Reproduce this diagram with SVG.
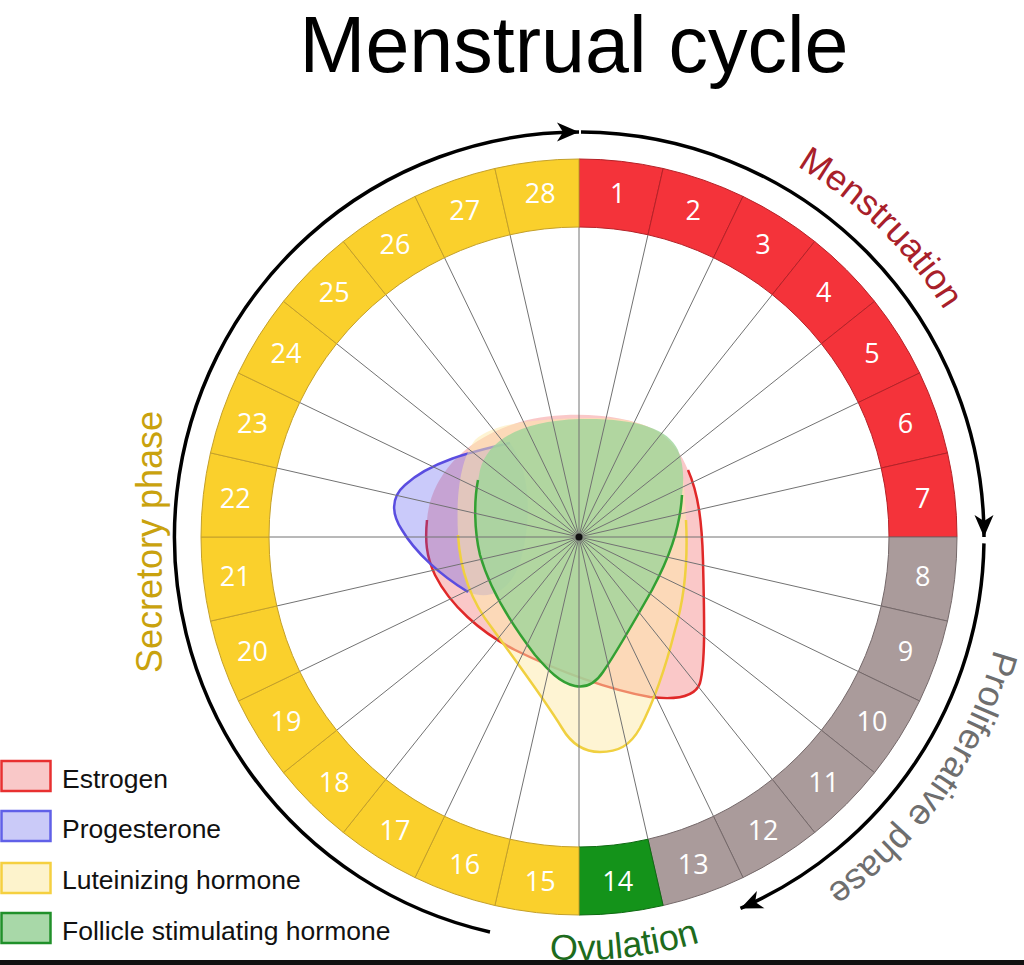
<svg xmlns="http://www.w3.org/2000/svg" width="1024" height="965" viewBox="0 0 1024 965">
<style>
.seg{stroke-width:1}
.red{fill:#F4333A;stroke:#B52228}
.gray{fill:#AA9B9B;stroke:#75696A}
.grn{fill:#14931A;stroke:#0E6A12}
.yel{fill:#FAD02C;stroke:#C4A02A}
.num{font-family:"Open Sans","Liberation Sans",sans-serif;font-size:27px;fill:#fff;text-anchor:middle}
.spk{stroke:#727272;stroke-width:1}
.arc{fill:none;stroke:#000;stroke-width:3.5;marker-end:url(#ah)}
.lbl{font-family:"Liberation Sans",Arial,sans-serif;font-size:36px}
.leg{font-family:"Liberation Sans",Arial,sans-serif;font-size:26.5px;fill:#111}
.box{stroke-width:2.5}
</style>
<defs>
<marker id="ah" markerUnits="userSpaceOnUse" markerWidth="26" markerHeight="24" viewBox="-24 -12 26 24" refX="0" refY="0" orient="auto">
<path d="M0,0 L-22,-9.5 L-16,0 L-22,9.5 Z" fill="#000"/>
</marker>
<path id="cw" d="M579,107 A430,430 0 1 1 579,967 A430,430 0 1 1 579,107"/>
<path id="ccw" d="M336.4,883.5 A423,423 0 0 0 878.1,836.1"/>
</defs>
<rect width="1024" height="965" fill="#fff"/>
<g id="title"><text x="574" y="72" font-family="Liberation Sans,Arial,sans-serif" font-size="79" text-anchor="middle" fill="#000">Menstrual cycle</text></g>

<g id="hormones">
<g id="estrogen-curve">
<path d="M688,470 C699,495 702,525 703,560 C704,610 706,660 700,683 C695,698 675,700 650,697 C610,690 560,672 515,650 C480,632 450,605 435,575 C426,556 425,540 427,520 C430,480 460,440 520,422 C560,411 620,412 655,430 C672,440 682,455 688,470 Z" fill="#F04848" fill-opacity="0.3"/>
<path d="M688,470 C699,495 702,525 703,560 C704,610 706,660 700,683 C695,698 675,700 650,697 C610,690 560,672 515,650 C480,632 450,605 435,575 C426,556 425,540 427,520" fill="none" stroke="#E02828" stroke-width="2.5"/>
</g>
<g id="progesterone-curve">
<path d="M510,443 C470,452 430,462 405,485 C390,498 392,515 402,530 C415,552 440,575 468,592 C495,603 515,585 522,555 C532,515 530,470 510,443 Z" fill="#5050F0" fill-opacity="0.3"/>
<path d="M510,443 C470,452 430,462 405,485 C390,498 392,515 402,530 C415,552 440,575 468,592" fill="none" stroke="#5A4DE0" stroke-width="2.5"/>
</g>
<g id="lh-curve">
<path d="M686,520 C688,560 684,600 675,630 C665,670 652,705 640,728 C630,746 618,752 600,752 C585,752 572,745 562,728 C545,700 515,660 492,628 C470,600 460,570 458,535 C456,495 460,460 475,440 C495,422 540,418 600,418 C640,418 668,432 678,455 C684,472 685,495 686,520 Z" fill="#FDE9A8" fill-opacity="0.5"/>
<path d="M686,520 C688,560 684,600 675,630 C665,670 652,705 640,728 C630,746 618,752 600,752 C585,752 572,745 562,728 C545,700 515,660 492,628 C470,600 460,570 458,535" fill="none" stroke="#F0D040" stroke-width="2.5"/>
</g>
<g id="fsh-curve">
<path d="M682,495 C680,530 668,560 652,590 C635,620 618,650 603,672 C595,684 585,688 575,686 C560,683 548,670 535,655 C512,625 490,590 480,555 C474,530 474,500 480,470 C488,440 520,421 580,419 C635,418 668,428 678,450 C684,465 684,480 682,495 Z" fill="#A0D69B" fill-opacity="0.82"/>
<path d="M682,495 C680,530 668,560 652,590 C635,620 618,650 603,672 C595,684 585,688 575,686 C560,683 548,670 535,655 C512,625 490,590 480,555 C474,530 474,500 478,480" fill="none" stroke="#33A033" stroke-width="2.5"/>
</g>
</g>

<g id="spokes">
<line class="spk" x1="579" y1="227" x2="579" y2="847"/>
<line class="spk" x1="647.98" y1="234.77" x2="510.02" y2="839.23"/>
<line class="spk" x1="713.50" y1="257.70" x2="444.50" y2="816.30"/>
<line class="spk" x1="772.28" y1="294.63" x2="385.72" y2="779.37"/>
<line class="spk" x1="821.37" y1="343.72" x2="336.63" y2="730.28"/>
<line class="spk" x1="858.30" y1="402.50" x2="299.70" y2="671.50"/>
<line class="spk" x1="881.23" y1="468.02" x2="276.77" y2="605.98"/>
<line class="spk" x1="889" y1="537" x2="269" y2="537"/>
<line class="spk" x1="881.23" y1="605.98" x2="276.77" y2="468.02"/>
<line class="spk" x1="858.30" y1="671.50" x2="299.70" y2="402.50"/>
<line class="spk" x1="821.37" y1="730.28" x2="336.63" y2="343.72"/>
<line class="spk" x1="772.28" y1="779.37" x2="385.72" y2="294.63"/>
<line class="spk" x1="713.50" y1="816.30" x2="444.50" y2="257.70"/>
<line class="spk" x1="647.98" y1="839.23" x2="510.02" y2="234.77"/>
<circle cx="579" cy="537" r="3.5" fill="#111"/>
</g>

<g id="ring">
<g id="day1"><path class="seg red" d="M579,159 A378,378 0 0 1 663.11,168.48 L647.98,234.77 A310,310 0 0 0 579,227 Z"/><text class="num" x="617.7" y="203.2">1</text></g>
<g id="day2"><path class="seg red" d="M663.11,168.48 A378,378 0 0 1 743.01,196.43 L713.50,257.70 A310,310 0 0 0 647.98,234.77 Z"/><text class="num" x="693.3" y="220.4">2</text></g>
<g id="day3"><path class="seg red" d="M743.01,196.43 A378,378 0 0 1 814.68,241.47 L772.28,294.63 A310,310 0 0 0 713.50,257.70 Z"/><text class="num" x="763.1" y="254">3</text></g>
<g id="day4"><path class="seg red" d="M814.68,241.47 A378,378 0 0 1 874.53,301.32 L821.37,343.72 A310,310 0 0 0 772.28,294.63 Z"/><text class="num" x="823.7" y="302.3">4</text></g>
<g id="day5"><path class="seg red" d="M874.53,301.32 A378,378 0 0 1 919.57,372.99 L858.30,402.50 A310,310 0 0 0 821.37,343.72 Z"/><text class="num" x="872" y="362.9">5</text></g>
<g id="day6"><path class="seg red" d="M919.57,372.99 A378,378 0 0 1 947.52,452.89 L881.23,468.02 A310,310 0 0 0 858.30,402.50 Z"/><text class="num" x="905.6" y="432.7">6</text></g>
<g id="day7"><path class="seg red" d="M947.52,452.89 A378,378 0 0 1 957,537 L889,537 A310,310 0 0 0 881.23,468.02 Z"/><text class="num" x="922.8" y="508.3">7</text></g>
<g id="day8"><path class="seg gray" d="M957,537 A378,378 0 0 1 947.52,621.11 L881.23,605.98 A310,310 0 0 0 889,537 Z"/><text class="num" x="922.8" y="585.7">8</text></g>
<g id="day9"><path class="seg gray" d="M947.52,621.11 A378,378 0 0 1 919.57,701.01 L858.30,671.50 A310,310 0 0 0 881.23,605.98 Z"/><text class="num" x="905.6" y="661.3">9</text></g>
<g id="day10"><path class="seg gray" d="M919.57,701.01 A378,378 0 0 1 874.53,772.68 L821.37,730.28 A310,310 0 0 0 858.30,671.50 Z"/><text class="num" x="872" y="731.1">10</text></g>
<g id="day11"><path class="seg gray" d="M874.53,772.68 A378,378 0 0 1 814.68,832.53 L772.28,779.37 A310,310 0 0 0 821.37,730.28 Z"/><text class="num" x="823.7" y="791.7">11</text></g>
<g id="day12"><path class="seg gray" d="M814.68,832.53 A378,378 0 0 1 743.01,877.57 L713.50,816.30 A310,310 0 0 0 772.28,779.37 Z"/><text class="num" x="763.1" y="840">12</text></g>
<g id="day13"><path class="seg gray" d="M743.01,877.57 A378,378 0 0 1 663.11,905.52 L647.98,839.23 A310,310 0 0 0 713.50,816.30 Z"/><text class="num" x="693.3" y="873.6">13</text></g>
<g id="day14"><path class="seg grn" d="M663.11,905.52 A378,378 0 0 1 579,915 L579,847 A310,310 0 0 0 647.98,839.23 Z"/><text class="num" x="617.7" y="890.8">14</text></g>
<g id="day15"><path class="seg yel" d="M579,915 A378,378 0 0 1 494.89,905.52 L510.02,839.23 A310,310 0 0 0 579,847 Z"/><text class="num" x="540.3" y="890.8">15</text></g>
<g id="day16"><path class="seg yel" d="M494.89,905.52 A378,378 0 0 1 414.99,877.57 L444.50,816.30 A310,310 0 0 0 510.02,839.23 Z"/><text class="num" x="464.7" y="873.6">16</text></g>
<g id="day17"><path class="seg yel" d="M414.99,877.57 A378,378 0 0 1 343.32,832.53 L385.72,779.37 A310,310 0 0 0 444.50,816.30 Z"/><text class="num" x="394.9" y="840">17</text></g>
<g id="day18"><path class="seg yel" d="M343.32,832.53 A378,378 0 0 1 283.47,772.68 L336.63,730.28 A310,310 0 0 0 385.72,779.37 Z"/><text class="num" x="334.3" y="791.7">18</text></g>
<g id="day19"><path class="seg yel" d="M283.47,772.68 A378,378 0 0 1 238.43,701.01 L299.70,671.50 A310,310 0 0 0 336.63,730.28 Z"/><text class="num" x="286" y="731.1">19</text></g>
<g id="day20"><path class="seg yel" d="M238.43,701.01 A378,378 0 0 1 210.48,621.11 L276.77,605.98 A310,310 0 0 0 299.70,671.50 Z"/><text class="num" x="252.4" y="661.3">20</text></g>
<g id="day21"><path class="seg yel" d="M210.48,621.11 A378,378 0 0 1 201,537 L269,537 A310,310 0 0 0 276.77,605.98 Z"/><text class="num" x="235.2" y="585.7">21</text></g>
<g id="day22"><path class="seg yel" d="M201,537 A378,378 0 0 1 210.48,452.89 L276.77,468.02 A310,310 0 0 0 269,537 Z"/><text class="num" x="235.2" y="508.3">22</text></g>
<g id="day23"><path class="seg yel" d="M210.48,452.89 A378,378 0 0 1 238.43,372.99 L299.70,402.50 A310,310 0 0 0 276.77,468.02 Z"/><text class="num" x="252.4" y="432.7">23</text></g>
<g id="day24"><path class="seg yel" d="M238.43,372.99 A378,378 0 0 1 283.47,301.32 L336.63,343.72 A310,310 0 0 0 299.70,402.50 Z"/><text class="num" x="286" y="362.9">24</text></g>
<g id="day25"><path class="seg yel" d="M283.47,301.32 A378,378 0 0 1 343.32,241.47 L385.72,294.63 A310,310 0 0 0 336.63,343.72 Z"/><text class="num" x="334.3" y="302.3">25</text></g>
<g id="day26"><path class="seg yel" d="M343.32,241.47 A378,378 0 0 1 414.99,196.43 L444.50,257.70 A310,310 0 0 0 385.72,294.63 Z"/><text class="num" x="394.9" y="254">26</text></g>
<g id="day27"><path class="seg yel" d="M414.99,196.43 A378,378 0 0 1 494.89,168.48 L510.02,234.77 A310,310 0 0 0 444.50,257.70 Z"/><text class="num" x="464.7" y="220.4">27</text></g>
<g id="day28"><path class="seg yel" d="M494.89,168.48 A378,378 0 0 1 579,159 L579,227 A310,310 0 0 0 510.02,234.77 Z"/><text class="num" x="540.3" y="203.2">28</text></g>
</g>

<g id="connectors">
<path class="arc" d="M490,932 A405,405 0 0 1 579,132"/>
<path class="arc" d="M581,132 A405,405 0 0 1 984,537"/>
<path class="arc" d="M983.95,543.4 A405,405 0 0 1 740.5,908.4"/>
</g>

<g id="phase-labels">
<g id="menstruation"><text class="lbl" fill="#A8202A"><textPath href="#cw" startOffset="332.5" text-anchor="middle">Menstruation</textPath></text></g>
<g id="proliferative"><text class="lbl" fill="#6E6E6E"><textPath href="#cw" startOffset="938" text-anchor="middle">Proliferative phase</textPath></text></g>
<g id="ovulation"><text class="lbl" fill="#1D6B1D"><textPath href="#ccw" startOffset="305" text-anchor="middle">Ovulation</textPath></text></g>
<g id="secretory"><text class="lbl" font-size="38" fill="#C9A20E" text-anchor="middle" transform="translate(162,542) rotate(-90)">Secretory phase</text></g>
</g>

<g id="legend">
<g id="leg-estrogen"><rect class="box" x="1.5" y="761" width="49" height="30" fill="#F9C8C8" stroke="#E83030"/><text class="leg" x="62" y="788">Estrogen</text></g>
<g id="leg-progesterone"><rect class="box" x="1.5" y="811" width="49" height="30" fill="#CACAF8" stroke="#6060E8"/><text class="leg" x="62" y="838">Progesterone</text></g>
<g id="leg-lh"><rect class="box" x="1.5" y="863" width="49" height="30" fill="#FDF3CC" stroke="#F5D040"/><text class="leg" x="62" y="889">Luteinizing hormone</text></g>
<g id="leg-fsh"><rect class="box" x="1.5" y="913" width="49" height="30" fill="#A8D8A8" stroke="#20902A"/><text class="leg" x="62" y="940">Follicle stimulating hormone</text></g>
</g>

<rect x="0" y="960" width="1024" height="5" fill="#111"/>
</svg>
